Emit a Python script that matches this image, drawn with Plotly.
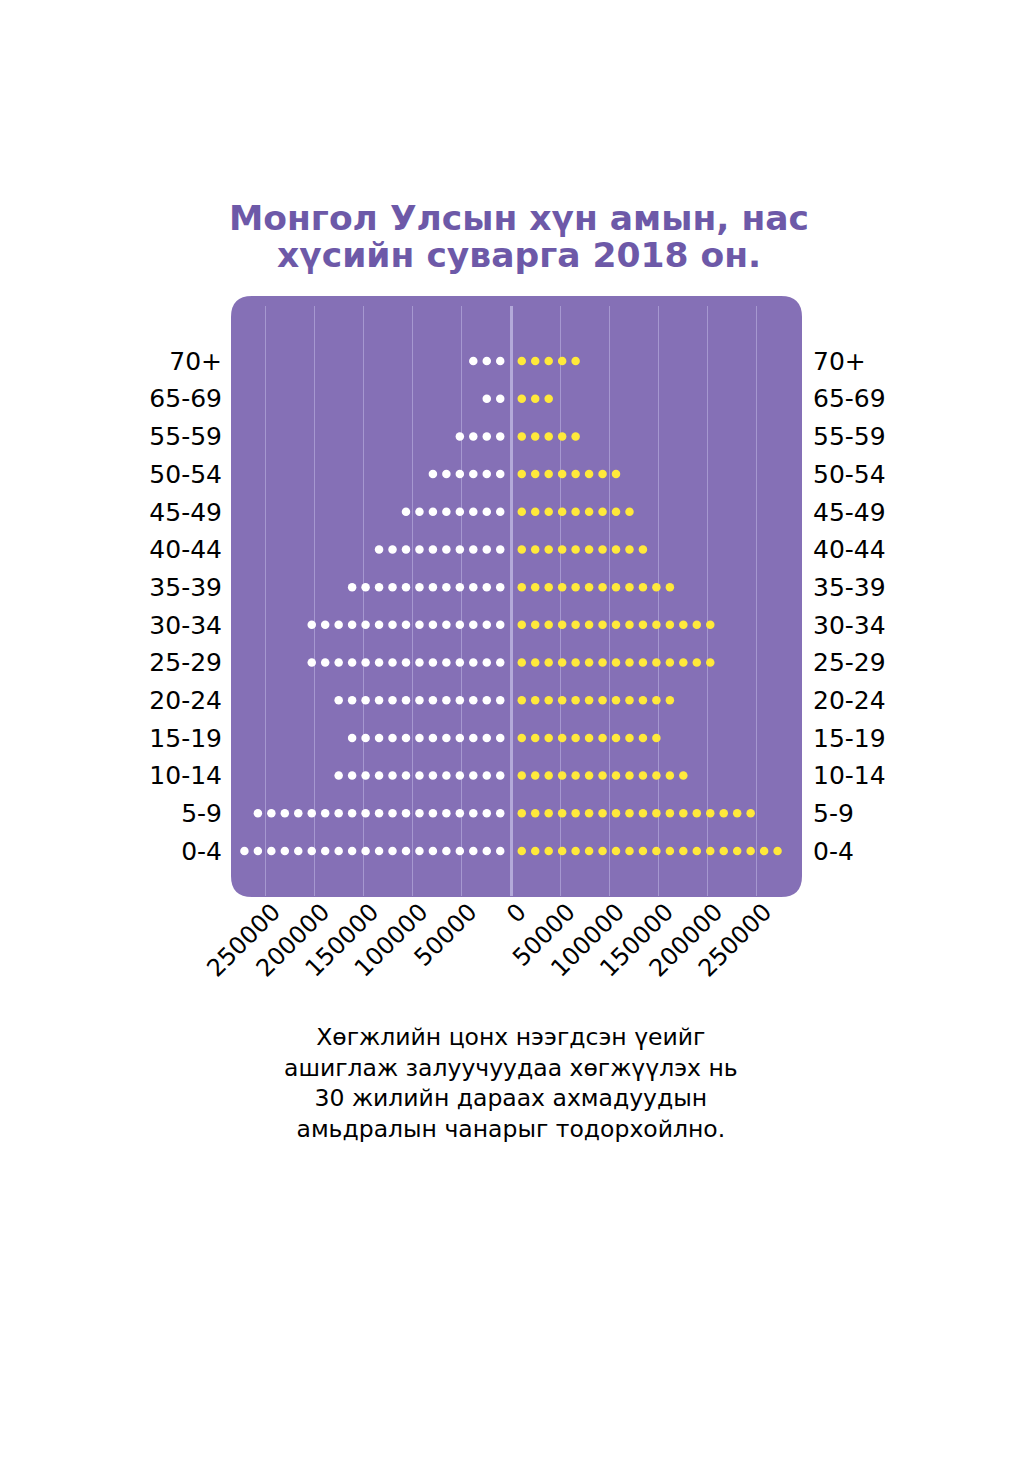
import plotly.graph_objects as go

# ---------------- data ----------------
AGE_GROUPS = ["70+", "65-69", "55-59", "50-54", "45-49", "40-44", "35-39",
              "30-34", "25-29", "20-24", "15-19", "10-14", "5-9", "0-4"]
LEFT_DOTS = [3, 2, 4, 6, 8, 10, 12, 15, 15, 13, 12, 13, 19, 20]     # white dots
RIGHT_DOTS = [5, 3, 5, 8, 9, 10, 12, 15, 15, 12, 11, 13, 18, 20]    # yellow dots
PEOPLE_PER_DOT = 13700
TICK_VALUES = [-250000, -200000, -150000, -100000, -50000, 0,
               50000, 100000, 150000, 200000, 250000]
TICK_LABELS = ["250000", "200000", "150000", "100000", "50000", "0",
               "50000", "100000", "150000", "200000", "250000"]
TITLE_LINES = ["Монгол Улсын хүн амын, нас", "хүсийн суварга 2018 он."]
CAPTION = ("Хөгжлийн цонх нээгдсэн үеийг<br>ашиглаж залуучуудаа хөгжүүлэх нь"
           "<br>30 жилийн дараах ахмадуудын<br>амьдралын чанарыг тодорхойлно.")

# ---------------- style ----------------
FIRST_OFFSET = 0.8
W, H = 1024, 1480
PL, PR, PT, PB = 231, 802, 306, 896          # plot area in pixels
PURPLE = "#8570B6"
GRID = "#A698D0"
ZERO = "#B3A9D9"
TITLE_COL = "#6D59A8"
YELLOW = "#FFE93B"
FONT = "DejaVu Sans"

order_bottom_up = AGE_GROUPS[::-1]

def expand(counts, sign):
    xs, ys = [], []
    for grp, n in zip(AGE_GROUPS, counts):
        for i in range(n):
            xs.append(sign * (i + FIRST_OFFSET) * PEOPLE_PER_DOT)
            ys.append(grp)
    return xs, ys

lx, ly = expand(LEFT_DOTS, -1)
rx, ry = expand(RIGHT_DOTS, 1)

fig = go.Figure()
fig.add_trace(go.Scatter(x=lx, y=ly, mode="markers",
                         marker=dict(color="white", size=8.5, line=dict(width=0)),
                         hoverinfo="skip"))
fig.add_trace(go.Scatter(x=rx, y=ry, mode="markers",
                         marker=dict(color=YELLOW, size=8.5, line=dict(width=0)),
                         hoverinfo="skip"))
fig.add_trace(go.Scatter(x=[0] * len(AGE_GROUPS), y=AGE_GROUPS, yaxis="y2",
                         mode="markers", marker=dict(opacity=0), hoverinfo="skip"))

# x scale: 0 at pixel 511
px_per_unit = 0.98273 / 1000
zero_px = 511
xrange = [(PL - zero_px) / px_per_unit, (PR - zero_px) / px_per_unit]

# y scale
row_px = 37.69
y_bottom_row = 851
y_top_row = 361
yr = [-(PB - y_bottom_row) / row_px, (len(AGE_GROUPS) - 1) + (y_top_row - PT) / row_px]

def px2paper_x(px):
    return (px - PL) / (PR - PL)

def px2paper_y(py):
    return (PB - py) / (PB - PT)

# rounded rectangle background
bx0, bx1 = 231, 802
by0, by1 = 296, 897
r = 21
x0, x1 = px2paper_x(bx0), px2paper_x(bx1)
y0, y1 = px2paper_y(by1), px2paper_y(by0)
rx_ = r / (PR - PL)
ry_ = r / (PB - PT)
path = (f"M {x0 + rx_},{y1} L {x1 - rx_},{y1} Q {x1},{y1} {x1},{y1 - ry_} "
        f"L {x1},{y0 + ry_} Q {x1},{y0} {x1 - rx_},{y0} "
        f"L {x0 + rx_},{y0} Q {x0},{y0} {x0},{y0 + ry_} "
        f"L {x0},{y1 - ry_} Q {x0},{y1} {x0 + rx_},{y1} Z")

LABEL_SIZE = 25

fig.update_layout(
    width=W, height=H, autosize=False,
    margin=dict(l=PL, r=W - PR, t=PT, b=H - PB, pad=0),
    paper_bgcolor="white", plot_bgcolor="rgba(0,0,0,0)",
    showlegend=False,
    font=dict(family=FONT, color="black"),
    shapes=[dict(type="path", path=path, xref="paper", yref="paper",
                 fillcolor=PURPLE, line=dict(width=0), layer="below")],
    xaxis=dict(range=xrange, tickvals=TICK_VALUES, ticktext=TICK_LABELS,
               tickangle=-45, tickfont=dict(size=24, family=FONT, color="black"),
               showgrid=True, gridcolor=GRID, gridwidth=1,
               zeroline=True, zerolinecolor=ZERO, zerolinewidth=3,
               ticks="", ticklabelshift=8, ticklabelstandoff=-4,
               showline=False, fixedrange=True),
    yaxis=dict(type="category", categoryorder="array", categoryarray=order_bottom_up,
               range=yr, showgrid=False, zeroline=False, showline=False,
               tickfont=dict(size=LABEL_SIZE, family=FONT, color="black"),
               ticks="outside", ticklen=3, tickcolor="rgba(0,0,0,0)"),
    yaxis2=dict(type="category", categoryorder="array", categoryarray=order_bottom_up,
                range=yr, overlaying="y", side="right", showgrid=False,
                zeroline=False, showline=False,
                tickfont=dict(size=LABEL_SIZE, family=FONT, color="black"),
                ticks="outside", ticklen=5, tickcolor="rgba(0,0,0,0)"),
)

title_centers = [218, 255]
for line, cy in zip(TITLE_LINES, title_centers):
    fig.add_annotation(text=line, xref="paper", yref="paper",
                       x=px2paper_x(519), y=px2paper_y(cy),
                       xanchor="center", yanchor="middle", showarrow=False,
                       font=dict(size=34.5, family=FONT, color=TITLE_COL, weight="bold"))

fig.add_annotation(text=CAPTION, xref="paper", yref="paper",
                   x=px2paper_x(511), y=px2paper_y(1083),
                   xanchor="center", yanchor="middle", showarrow=False, align="center",
                   font=dict(size=23.5, family=FONT, color="black"))

fig.write_html("out.html")
